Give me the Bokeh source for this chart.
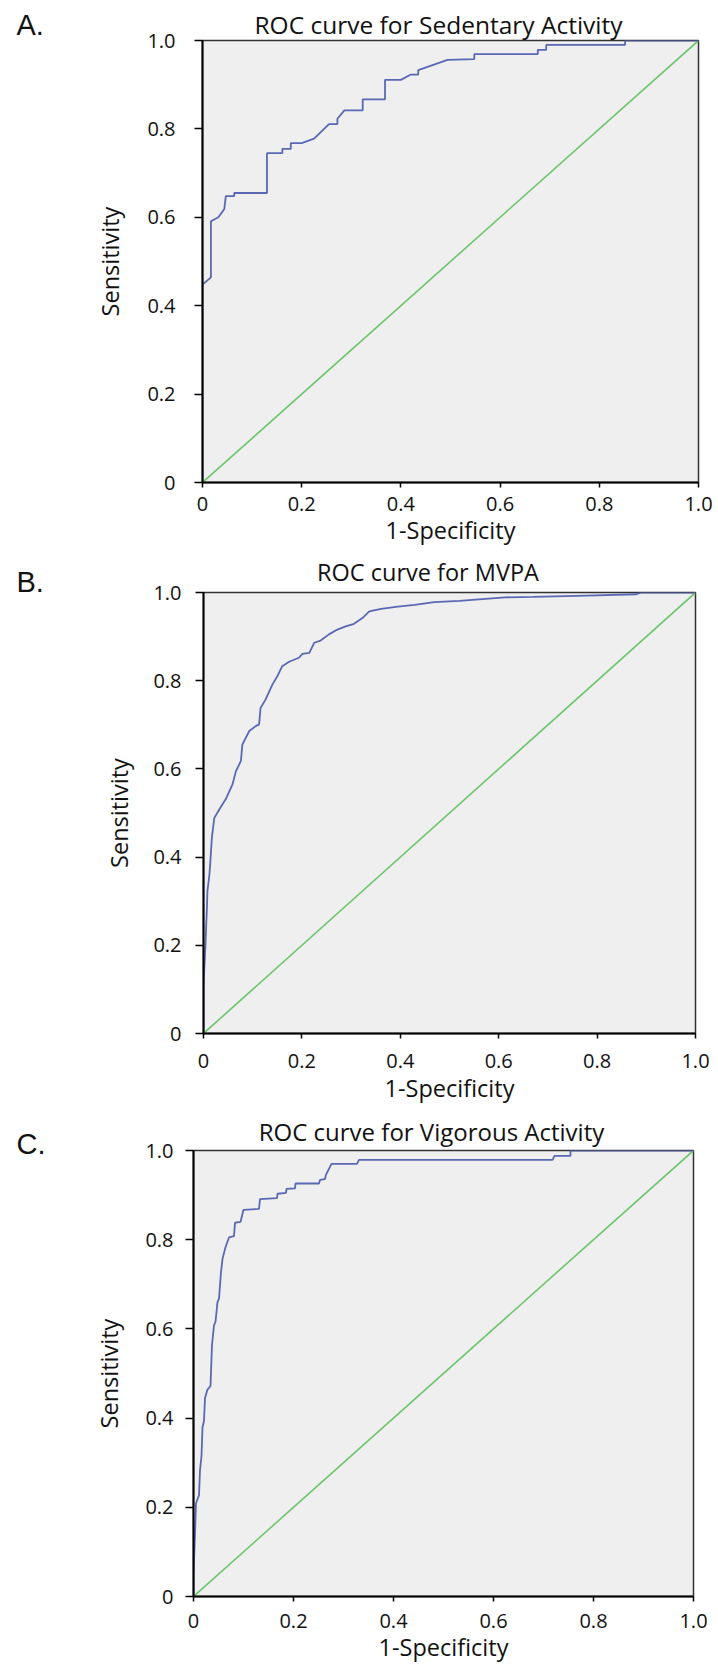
from bokeh.plotting import figure
from bokeh.layouts import column, row
from bokeh.models import Label, FixedTicker, CustomJSTickFormatter, Range1d
from bokeh.embed import file_html
from bokeh.resources import INLINE

# ---------------- data ----------------
tick_values = [0, 0.2, 0.4, 0.6, 0.8, 1.0]
tick_labels = ["0", "0.2", "0.4", "0.6", "0.8", "1.0"]

panel_letters = ["A.", "B.", "C."]
titles = ["ROC curve for Sedentary Activity", "ROC curve for MVPA",
          "ROC curve for Vigorous Activity"]
x_label = "1-Specificity"
y_label = "Sensitivity"

ref_fpr = [0.0, 1.0]
ref_tpr = [0.0, 1.0]

sed_fpr = [0.000, 0.000, 0.017, 0.017, 0.032, 0.044, 0.047, 0.064, 0.064, 0.130,
           0.130, 0.161, 0.161, 0.178, 0.178, 0.200, 0.225, 0.255, 0.272, 0.272,
           0.286, 0.323, 0.323, 0.368, 0.368, 0.400, 0.420, 0.435, 0.435, 0.494,
           0.548, 0.548, 0.676, 0.676, 0.693, 0.693, 0.852, 0.852, 1.000]
sed_tpr = [0.000, 0.448, 0.464, 0.591, 0.600, 0.619, 0.648, 0.648, 0.655, 0.655,
           0.745, 0.745, 0.755, 0.755, 0.768, 0.768, 0.778, 0.811, 0.811, 0.823,
           0.842, 0.842, 0.867, 0.867, 0.911, 0.911, 0.923, 0.923, 0.933, 0.956,
           0.958, 0.969, 0.969, 0.979, 0.979, 0.990, 0.990, 1.000, 1.000]

mvpa_fpr = [0.000, 0.000, 0.004, 0.005, 0.007, 0.008, 0.012, 0.014, 0.017, 0.022,
            0.032, 0.045, 0.059, 0.066, 0.076, 0.079, 0.093, 0.106, 0.113, 0.116,
            0.126, 0.140, 0.150, 0.160, 0.174, 0.194, 0.201, 0.215, 0.225, 0.238,
            0.255, 0.272, 0.289, 0.306, 0.323, 0.337, 0.361, 0.395, 0.429, 0.469,
            0.520, 0.613, 0.670, 0.780, 0.880, 0.890, 1.000]
mvpa_tpr = [0.000, 0.110, 0.200, 0.233, 0.285, 0.323, 0.360, 0.391, 0.444, 0.489,
            0.508, 0.531, 0.565, 0.595, 0.618, 0.655, 0.686, 0.697, 0.701, 0.738,
            0.757, 0.791, 0.810, 0.833, 0.843, 0.852, 0.861, 0.863, 0.886, 0.891,
            0.905, 0.916, 0.923, 0.929, 0.942, 0.957, 0.963, 0.968, 0.972, 0.978,
            0.981, 0.989, 0.990, 0.993, 0.996, 1.000, 1.000]

vig_fpr = [0.000, 0.000, 0.003, 0.005, 0.011, 0.013, 0.016, 0.018, 0.021, 0.023,
           0.028, 0.034, 0.037, 0.041, 0.044, 0.048, 0.051, 0.055, 0.058, 0.064,
           0.071, 0.081, 0.083, 0.094, 0.100, 0.131, 0.133, 0.167, 0.168, 0.185,
           0.186, 0.203, 0.204, 0.251, 0.253, 0.263, 0.265, 0.276, 0.327, 0.331,
           0.718, 0.722, 0.754, 0.754, 1.000]
vig_tpr = [0.000, 0.050, 0.140, 0.209, 0.227, 0.283, 0.315, 0.379, 0.394, 0.445,
           0.464, 0.472, 0.564, 0.608, 0.616, 0.660, 0.668, 0.727, 0.757, 0.783,
           0.805, 0.808, 0.838, 0.840, 0.867, 0.869, 0.891, 0.893, 0.903, 0.905,
           0.914, 0.915, 0.926, 0.926, 0.934, 0.936, 0.946, 0.970, 0.970, 0.979,
           0.979, 0.988, 0.988, 1.000, 1.000]

curves = [(sed_fpr, sed_tpr), (mvpa_fpr, mvpa_tpr), (vig_fpr, vig_tpr)]

# ---------------- style / layout ----------------
FONT = "Open Sans"
W = 718
CURVE_COLOR = "#5a68b4"
DIAG_COLOR = "#6cc46c"
BG = "#efefef"

# page-pixel targets (text centres) are converted to data units below
panels = [
    dict(h=560, l=202, r=20, t=40, b=78, title=(438, 24), tsize="24.5px",
         letter=(16, 24.5), xls=9, xals=0, yls=19, yals=18),
    dict(h=556, l=203, r=23, t=32, b=83, title=(427.5, 571.5), tsize="23.5px",
         letter=(16, 581.5), xls=15, xals=1, yls=14, yals=15),
    dict(h=558, l=193, r=25, t=34, b=78, title=(431, 1131), tsize="24px",
         letter=(16, 1143.5), xls=12, xals=0, yls=12, yals=17),
]

fmt_code = """
const i = vals.findIndex(v => Math.abs(v - tick) < 1e-9);
return i >= 0 ? labs[i] : '';
"""

figs = []
y0 = 0
for i, cfg in enumerate(panels):
    fpr, tpr = curves[i]
    p = figure(width=W, height=cfg["h"], output_backend="svg", toolbar_location=None,
               title=None, x_range=Range1d(0, 1), y_range=Range1d(0, 1),
               min_border_left=cfg["l"], min_border_right=cfg["r"],
               min_border_top=cfg["t"], min_border_bottom=cfg["b"])
    p.background_fill_color = BG
    p.border_fill_color = "white"
    p.outline_line_color = "#333333"
    p.outline_line_width = 1.5
    p.xgrid.visible = False
    p.ygrid.visible = False

    for ax, ls, als, tout in ((p.xaxis[0], cfg["xls"], cfg["xals"], 5),
                              (p.yaxis[0], cfg["yls"], cfg["yals"], 8)):
        ax.ticker = FixedTicker(ticks=tick_values)
        ax.formatter = CustomJSTickFormatter(args=dict(vals=tick_values, labs=tick_labels),
                                             code=fmt_code)
        ax.axis_line_color = "black"
        ax.axis_line_width = 2
        ax.major_tick_line_color = "black"
        ax.major_tick_line_width = 1.5
        ax.major_tick_in = 0
        ax.major_tick_out = tout
        ax.minor_tick_line_color = None
        ax.major_label_text_font = FONT
        ax.major_label_text_font_size = "20px"
        ax.major_label_text_color = "#111111"
        ax.major_label_standoff = ls
        ax.axis_label_text_font = FONT
        ax.axis_label_text_font_size = "23.5px"
        ax.axis_label_text_font_style = "normal"
        ax.axis_label_text_color = "#111111"
        ax.axis_label_standoff = als
    p.xaxis.axis_label = x_label
    p.yaxis.axis_label = y_label

    p.line(ref_fpr, ref_tpr, line_color=DIAG_COLOR, line_width=1.6)
    p.line(fpr, tpr, line_color=CURVE_COLOR, line_width=1.8)

    left = cfg["l"]
    top = y0 + cfg["t"]
    fw = W - cfg["l"] - cfg["r"]
    fh = cfg["h"] - cfg["t"] - cfg["b"]

    def to_data(px, py):
        return (px - left) / fw, (top + fh - py) / fh

    tx, ty = to_data(*cfg["title"])
    p.add_layout(Label(x=tx, y=ty, text=titles[i], text_font=FONT,
                       text_font_size=cfg["tsize"], text_color="#111111",
                       text_align="center", text_baseline="middle"), "above")
    lx, ly = to_data(*cfg["letter"])
    p.add_layout(Label(x=lx, y=ly, text=panel_letters[i], text_font="Liberation Sans",
                       text_font_size="29px", text_color="#111111",
                       text_align="left", text_baseline="middle"), "left")
    figs.append(row(p))
    y0 += cfg["h"]

layout = column(*figs, spacing=0)
open("out.html", "w").write(file_html(layout, INLINE))
